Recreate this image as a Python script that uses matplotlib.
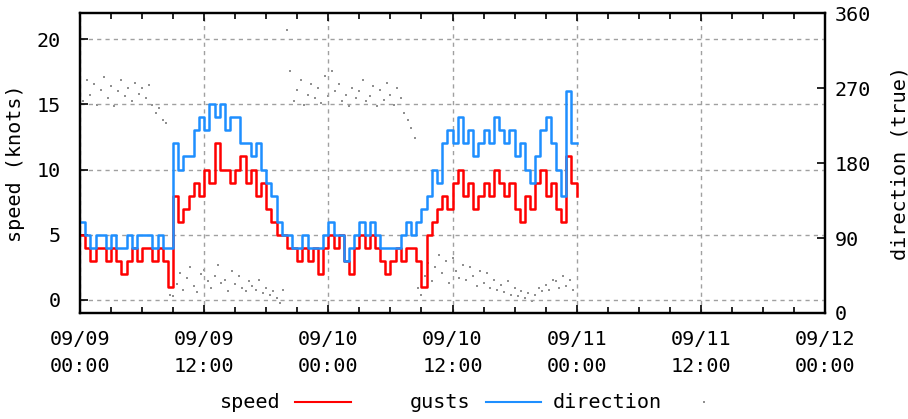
import matplotlib
matplotlib.use('Agg')
import matplotlib.pyplot as plt
import matplotlib.dates as mdates
from matplotlib.lines import Line2D
import pandas as pd

# wind record, 30 min steps from 09/09 00:00 (last value closes the step at 09/11 00:00)
speed = [5, 4, 3, 4, 4, 3, 4, 3, 2, 3, 4, 3, 4, 4, 3, 4, 3, 1,
         8, 6, 7, 8, 9, 8, 10, 9, 12, 10, 10, 9, 10, 11, 9, 10, 8, 9,
         7, 6, 5, 5, 4, 4, 3, 4, 3, 4, 2, 4, 5, 4, 5, 3, 2, 4,
         5, 4, 5, 4, 3, 2, 3, 4, 3, 4, 4, 3, 1, 5, 6, 7, 8, 7,
         9, 10, 8, 9, 7, 8, 9, 8, 10, 9, 8, 9, 7, 6, 8, 7, 9, 10,
         8, 9, 7, 6, 11, 9, 8]
gusts = [6, 5, 4, 5, 5, 4, 5, 4, 4, 5, 4, 5, 5, 5, 4, 5, 4, 4,
         12, 10, 11, 11, 13, 14, 13, 15, 14, 15, 13, 14, 14, 12, 12, 11, 12, 10,
         9, 8, 6, 5, 5, 4, 4, 5, 4, 4, 4, 5, 6, 5, 5, 3, 4, 5,
         6, 5, 6, 5, 4, 4, 4, 4, 5, 6, 5, 6, 7, 8, 10, 9, 12, 13,
         12, 14, 12, 13, 11, 12, 13, 12, 14, 13, 12, 13, 11, 12, 10, 9, 11, 13,
         14, 12, 10, 8, 16, 12, 12]
# direction, 20 min steps
direction = [270, 255, 280, 262, 275, 250, 268, 283, 258, 272, 248, 266,
             280, 260, 270, 255, 276, 263, 270, 258, 274, 250, 240, 246,
             232, 228, 22, 20, 35, 48, 28, 42, 55, 33, 25, 47,
             52, 38, 30, 44, 58, 36, 40, 27, 50, 35, 45, 30,
             26, 38, 32, 28, 40, 24, 30, 22, 26, 18, 12, 28,
             340, 290, 255, 268, 280, 250, 262, 275, 258, 270, 252, 284,
             260, 290, 266, 275, 255, 262, 248, 270, 258, 266, 280, 254,
             260, 272, 248, 268, 256, 276, 262, 250, 270, 258, 240, 232,
             222, 210, 30, 22, 45, 60, 38, 55, 70, 48, 62, 36,
             66, 50, 42, 58, 40, 55, 45, 32, 50, 36, 48, 30,
             40, 28, 34, 25, 38, 22, 30, 20, 26, 18, 24, 15,
             22, 30, 26, 34, 28, 40, 38, 30, 45, 32, 40, 28]

start = pd.Timestamp('2014-09-09 00:00')
t_speed = pd.date_range(start, periods=len(speed), freq='30min')
t_dir = pd.date_range(start, periods=len(direction), freq='20min')

plt.rcParams['font.family'] = 'DejaVu Sans Mono'
plt.rcParams['font.size'] = 14.5

fig = plt.figure(figsize=(9.08, 4.19), dpi=100)
ax = fig.add_axes([80/908, 1-313/419, 745/908, 300/419])
ax2 = ax.twinx()
ax.set_zorder(ax2.get_zorder()+1)
ax.patch.set_visible(False)

ax.step(t_speed, speed, where='post', color='#ff0000', lw=1.8)
ax.step(t_speed, gusts, where='post', color='#1e8fff', lw=1.8)
ax2.plot(t_dir, direction, ls='none', marker='s', ms=1.8, mew=0, color='#909090')

ax.set_xlim(start, start + pd.Timedelta(hours=72))
ax.set_ylim(-1, 22)
ax2.set_ylim(0, 360)
ax.set_yticks([0, 5, 10, 15, 20])
ax2.set_yticks([0, 90, 180, 270, 360])

ax.xaxis.set_major_locator(mdates.HourLocator(byhour=[0, 12]))
ax.xaxis.set_minor_locator(mdates.HourLocator(interval=3))
ax.xaxis.set_major_formatter(mdates.DateFormatter('%m/%d\n%H:%M'))
for lab in ax.get_xticklabels():
    lab.set_linespacing(1.55)

ax.tick_params(axis='x', which='both', direction='in', top=True, pad=12)
ax.tick_params(axis='x', which='major', length=6, width=1.2)
ax.tick_params(axis='x', which='minor', length=4, width=1.2)
ax.tick_params(axis='y', direction='in', length=6, width=1.2, pad=14)
ax2.tick_params(axis='y', direction='in', length=6, width=1.2, pad=7)

ax.grid(True, which='major', color='#a0a0a0', ls=(0, (3, 3)), lw=1)
for sp in ax.spines.values():
    sp.set_linewidth(1.6)
for sp in ax2.spines.values():
    sp.set_linewidth(1.6)

ax.set_ylabel('speed (knots)', labelpad=8)
ax2.set_ylabel('direction (true)', labelpad=14)

# gnuplot style key: text then sample
ky = 1 - 402/419
fig.text(281/908, ky, 'speed', ha='right', va='center')
fig.add_artist(Line2D([295/908, 351/908], [ky, ky], color='#ff0000', lw=1.5))
fig.text(470/908, ky, 'gusts', ha='right', va='center')
fig.add_artist(Line2D([486/908, 541/908], [ky, ky], color='#1e8fff', lw=1.5))
fig.text(662/908, ky, 'direction', ha='right', va='center')
fig.add_artist(Line2D([704/908], [ky], ls='none', marker='s', ms=1.6, mew=0, color='#909090'))

fig.savefig('out.png', dpi=100)
